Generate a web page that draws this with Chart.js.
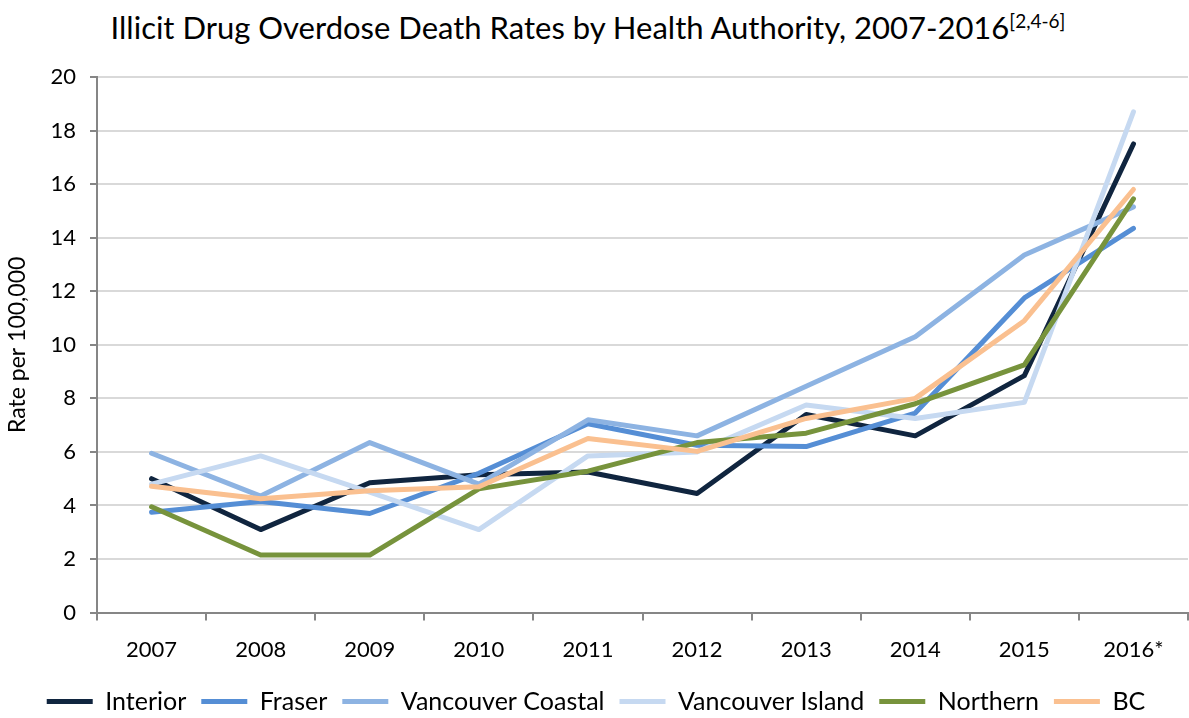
<!DOCTYPE html>
<html>
<head>
<meta charset="utf-8">
<script src="https://cdn.jsdelivr.net/npm/chart.js@4/dist/chart.umd.min.js"></script>
<style>
  html, body { margin: 0; padding: 0; background: #fff; }
  #wrap { position: relative; width: 1189px; height: 718px; }
  #title {
    position: absolute; left: 0; top: 8px; width: 1176px; text-align: center;
    font-family: Lato, "Open Sans", sans-serif; font-size: 31px; color: #000;
  }
  #title sup { font-size: 19px; vertical-align: 11px; line-height: 0; }
  canvas { position: absolute; left: 0; top: 0; }
</style>
</head>
<body>
<div id="wrap">
  <div id="title">Illicit Drug Overdose Death Rates by Health Authority, 2007-2016<sup>[2,4-6]</sup></div>
  <canvas id="chart" width="1189" height="718"></canvas>
</div>
<script>
const years = ["2007", "2008", "2009", "2010", "2011", "2012", "2013", "2014", "2015", "2016*"];

const interior = [5.0, 3.1, 4.85, 5.15, 5.25, 4.45, 7.4, 6.6, 8.85, 17.5];
const fraser = [3.75, 4.15, 3.7, 5.2, 7.05, 6.25, 6.2, 7.45, 11.75, 14.35];
const vanCoastal = [5.95, 4.35, 6.35, 4.8, 7.2, 6.6, 8.45, 10.3, 13.35, 15.15];
const vanIsland = [4.8, 5.85, 4.5, 3.1, 5.85, 6.0, 7.75, 7.25, 7.85, 18.7];
const northern = [3.95, 2.15, 2.15, 4.62, 5.28, 6.35, 6.7, 7.8, 9.25, 15.45];
const bc = [4.72, 4.25, 4.55, 4.7, 6.5, 6.02, 7.25, 8.0, 10.9, 15.8];

const seriesNames = ["Interior", "Fraser", "Vancouver Coastal", "Vancouver Island", "Northern", "BC"];
const seriesData = [interior, fraser, vanCoastal, vanIsland, northern, bc];
const seriesColors = ["#10253F", "#558ED5", "#8DB3E2", "#C6D9F1", "#77933C", "#FAC090"];

const font = "Lato, 'Open Sans', sans-serif";

const datasets = seriesNames.map((name, i) => ({
  label: name,
  data: seriesData[i],
  borderColor: seriesColors[i],
  backgroundColor: seriesColors[i],
  borderWidth: 5,
  borderCapStyle: "round",
  borderJoinStyle: "round",
  pointRadius: 0,
  pointStyle: "line",
  tension: 0,
  fill: false,
  order: seriesNames.length - i
}));

new Chart(document.getElementById("chart"), {
  type: "line",
  data: { labels: years, datasets: datasets },
  options: {
    responsive: false,
    animation: false,
    layout: { padding: { top: 77, right: 1, left: 4, bottom: -6 } },
    plugins: {
      title: { display: false },
      tooltip: { enabled: false },
      legend: {
        position: "bottom",
        labels: {
          usePointStyle: true,
          pointStyleWidth: 46,
          boxWidth: 46,
          padding: 15,
          color: "#000",
          font: { family: font, size: 25 },
          sort: (a, b) => a.datasetIndex - b.datasetIndex
        }
      }
    },
    scales: {
      x: {
        offset: true,
        grid: { offset: true, drawOnChartArea: false, drawTicks: true, tickLength: 8, color: "#868686", lineWidth: 2 },
        border: { color: "#868686", width: 2 },
        ticks: { color: "#000", font: { family: font, size: 22 }, padding: 16, maxRotation: 0 },
        afterFit: (s) => { s.height -= 5; }
      },
      y: {
        min: 0,
        max: 20,
        ticks: { stepSize: 2, color: "#000", font: { family: font, size: 22 }, padding: 14 },
        grid: { color: "#D9D9D9", lineWidth: 2, tickLength: 7, tickColor: "#868686" },
        border: { color: "#868686", width: 2 },
        title: { display: true, text: "Rate per 100,000", color: "#000", font: { family: font, size: 23 }, padding: { top: 0, bottom: 4 } },
        afterFit: (s) => { s.width = 93; }
      }
    }
  }
});
</script>
</body>
</html>
